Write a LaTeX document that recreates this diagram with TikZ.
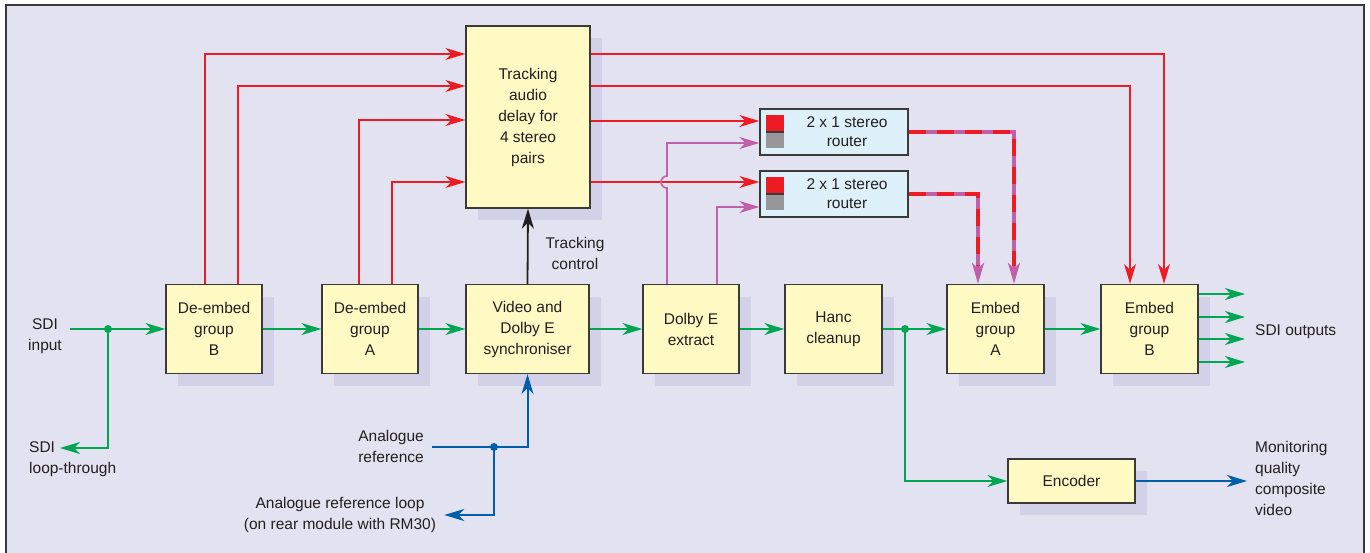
\documentclass[tikz,border=0pt]{standalone}
\usepackage{fontspec}
\setmainfont{Liberation Sans}
\usetikzlibrary{arrows.meta,shadows,calc}

\definecolor{paper}{RGB}{227,226,240}
\definecolor{shade}{RGB}{211,209,232}
\definecolor{boxfill}{RGB}{255,249,196}
\definecolor{rtfill}{RGB}{222,240,250}
\definecolor{edge}{RGB}{58,58,58}
\definecolor{ink}{RGB}{35,31,32}
\definecolor{sdigreen}{RGB}{0,166,81}
\definecolor{audred}{RGB}{237,28,36}
\definecolor{dolbypurple}{RGB}{192,96,168}
\definecolor{refblue}{RGB}{0,94,170}
\definecolor{mute}{RGB}{150,150,155}

\begin{document}
\begin{tikzpicture}[x=1pt, y=-1pt, font=\fontsize{15.5}{21}\selectfont, text=ink,
    arr/.style={-{Stealth[length=20pt,width=12pt,inset=6pt]}},
    blk/.style={draw=edge, fill=boxfill, line width=1.3pt, align=center, inner sep=0pt,
        minimum height=89pt, general shadow={fill=shade, shadow xshift=12pt, shadow yshift=-12pt}},
    rtr/.style={draw=edge, fill=rtfill, line width=1.3pt, minimum width=148pt,
        minimum height=46pt, inner sep=0pt},
    lbl/.style={align=center, inner xsep=8pt, inner ysep=2pt},
    sdiline/.style={draw=sdigreen, line width=2pt},
    sdi/.style={sdiline, arr},
    ref/.style={draw=refblue, line width=2pt, arr},
    ctl/.style={draw=ink, line width=1.8pt, arr},
    aud/.style={draw=audred, line width=1.6pt, arr},
    dol/.style={draw=dolbypurple, line width=1.6pt, arr},
    mix/.style={draw=dolbypurple, line width=3.6pt, -{Stealth[length=21pt,width=12pt,inset=6pt]},
        postaction={draw=audred, -, shorten >=18pt, dash pattern=on 17pt off 11pt}}]
    \useasboundingbox (0,0) rectangle (1370,553);
    \fill[paper] (6,5) rectangle (1364,553);
    \draw[edge, line width=2pt] (6,553) -- (6,5) -- (1364,5) -- (1364,553);

    % main signal chain
    \node[blk, minimum width=96pt] (debB) at (214,329) {De-embed\\group\\B};
    \node[blk, minimum width=96pt] (debA) at (370,329) {De-embed\\group\\A};
    \node[blk, minimum width=123pt] (sync) at (527.5,329) {Video and\\Dolby E\\synchroniser};
    \node[blk, minimum width=96pt] (dolby) at (691,329) {Dolby E\\extract};
    \node[blk, minimum width=97pt] (hanc) at (833.5,329) {Hanc\\cleanup};
    \node[blk, minimum width=97pt] (embA) at (995.5,329) {Embed\\group\\A};
    \node[blk, minimum width=97pt] (embB) at (1149.5,329) {Embed\\group\\B};
    \node[blk, minimum width=127pt, minimum height=44pt] (enc) at (1071.5,481) {Encoder};
    \node[blk, minimum width=124pt, minimum height=182pt] (delay) at (528,117)
        {Tracking\\audio\\delay for\\4 stereo\\pairs};

    \node[rtr] (rtA) at (834,132) {};
    \node[rtr] (rtB) at (834,194) {};
    \foreach \r in {rtA,rtB} {
        \fill[audred] ($(\r.north west)+(7,7)$) rectangle ++(18,16);
        \fill[edge] ($(\r.north west)+(7,23)$) rectangle ++(18,2);
        \fill[mute] ($(\r.north west)+(7,25)$) rectangle ++(18,15);
        \node[align=center, font=\fontsize{15.5}{19}\selectfont] (\r-txt) at ($(\r.center)+(13,0)$)
            {2 x 1 stereo\\router};
    }

    \node[lbl] (sdiin) at (45,336) {SDI\\input};
    \node[lbl, align=left, anchor=west] (sdiloop) at (21,459) {SDI\\loop-through};
    \node[lbl, anchor=west] (sdiout) at (1247,332) {SDI outputs};
    \node[lbl, align=left, anchor=west] (mon) at (1247,478) {Monitoring\\quality\\composite\\video};
    \node[lbl, align=right, anchor=east] (anref) at (432,446) {Analogue\\reference};
    \node[lbl] (anloop) at (340,515) {Analogue reference loop\\(on rear module with RM30)};
    \node[lbl] (trkctl) at (575,253) {Tracking\\control};

    \coordinate (insplit) at (108,329);
    \coordinate (looptip) at (60,448);
    \coordinate (refsplit) at (494,447);
    \coordinate (outsplit) at (905,329);

    % video path
    \draw[sdi] (sdiin.east |- insplit) -- (debB.west);
    \draw[sdi] (insplit) |- (looptip);
    \draw[sdi] (debB) -- (debA);
    \draw[sdi] (debA) -- (sync);
    \draw[sdi] (sync) -- (dolby);
    \draw[sdi] (dolby) -- (hanc);
    \draw[sdiline] (hanc) -- (outsplit);
    \draw[sdi] (outsplit) -- (embA);
    \draw[sdi] (embA) -- (embB);
    \draw[sdi] (outsplit) |- (enc.west);
    \foreach \y [count=\i] in {294,317,339,362} {
        \coordinate (out\i) at (1245,\y);
        \draw[sdi] (embB.east |- out\i) -- (out\i);
    }
    \fill[sdigreen] (insplit) circle (4);
    \fill[sdigreen] (outsplit) circle (4);

    % reference and tracking control
    \draw[ref] (anref.east |- refsplit) -- (refsplit) -| (sync.south);
    \draw[ref] (refsplit) |- (anloop.east);
    \fill[refblue] (refsplit) circle (4);
    \draw[ref] (enc) -- (mon.west |- enc);
    \draw[ctl] (sync.north) -- (delay.south);

    % audio pairs
    \draw[aud] (debB.north -| 205,0) |- (delay.west |- 0,54);
    \draw[aud] (debB.north -| 238,0) |- (delay.west |- 0,86);
    \draw[aud] (debA.north -| 359,0) |- (delay.west |- 0,120);
    \draw[aud] (debA.north -| 392,0) |- (delay.west |- 0,182);
    \draw[aud] (delay.east |- 0,54) -| (embB.north -| 1164,0);
    \draw[aud] (delay.east |- 0,86) -| (embB.north -| 1130,0);
    \draw[aud] (delay.east |- 0,121) -- (rtA.west |- 0,121);
    \draw[aud] (delay.east |- 0,182) -- (rtB.west |- 0,182);

    \draw[dol] (dolby.north -| 667,0) -- (667,188) arc[start angle=90, end angle=270, radius=6]
        |- (rtA.west |- 0,143);
    \draw[dol] (dolby.north -| 717,0) |- (rtB.west |- 0,207);

    \draw[mix] (rtA.east |- 0,132) -| (embA.north -| 1014,0);
    \draw[mix] (rtB.east |- 0,194) -| (embA.north -| 978,0);
\end{tikzpicture}
\end{document}
